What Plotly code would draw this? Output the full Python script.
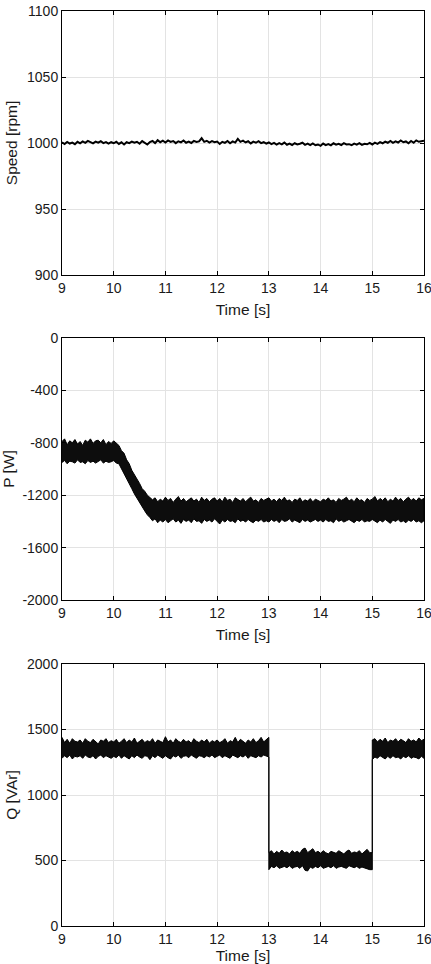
import plotly.graph_objects as go

# ---------------- data ----------------
speed_time = [round(9 + 0.05 * i, 2) for i in range(141)]
speed_rpm = [
    1000.5, 999.2, 1000.8, 999.6, 1000.3, 999.1, 1000.9, 999.8, 1001.2, 1000.1,
    1001.6, 1000.4, 999.7, 1001.0, 1000.2, 1001.3, 999.9, 1000.7, 999.5, 1000.6,
    999.8, 1000.9, 999.3, 1000.5, 998.9, 1000.6, 999.9, 1001.1, 1000.2, 1000.9,
    999.4, 1001.4, 1000.3, 998.8, 1000.7, 1001.5, 999.9, 1002.1, 1000.6, 1001.8,
    1000.4, 1002.0, 1000.8, 1001.5, 999.9, 1001.3, 1000.5, 1001.9, 1000.2, 1001.0,
    1000.0, 1001.6, 1000.8, 1001.2, 1003.6, 1000.9, 1001.7, 1000.3, 1001.4, 1000.6,
    1001.1, 999.3, 1000.9, 1000.1, 1001.5, 999.8, 1001.2, 1000.3, 1003.1, 1000.9,
    1001.8, 1000.4, 1001.3, 999.7, 1001.0, 1000.2, 1001.4, 999.9, 1000.6, 999.5,
    1000.4, 999.2, 1000.1, 998.8, 999.9, 999.0, 1000.3, 998.7, 999.6, 998.5,
    999.8, 998.9, 999.4, 1000.2, 998.6, 999.5, 998.4, 999.7, 998.3, 998.9,
    997.9, 999.6, 998.4, 999.2, 998.2, 999.8, 998.7, 999.4, 998.5, 999.9,
    998.9, 999.1, 998.3, 999.5, 998.8, 999.9, 998.6, 999.4, 999.0, 1000.1,
    998.9, 1000.3, 999.4, 1000.7, 999.8, 1001.1, 1000.2, 1001.6, 1000.1, 1001.3,
    1000.4, 1001.9, 1000.6, 1001.2, 999.8, 1001.5, 1000.2, 1002.0, 1000.9, 1001.6,
    1001.8,
]

# P: upper / lower edge of the noisy band, sampled every 0.05 s
p_time = [round(9 + 0.05 * i, 2) for i in range(141)]
p_upper = [
    -790, -770, -815, -785, -800, -775, -810, -790, -820, -780,
    -795, -770, -805, -785, -780, -800, -775, -815, -790, -805,
    -785, -800, -820, -860, -880, -930, -960, -1010, -1040, -1080,
    -1110, -1150, -1170, -1200, -1215, -1235, -1220, -1250, -1230, -1245,
    -1215, -1240, -1225, -1255, -1230, -1210, -1245, -1225, -1250, -1235,
    -1220, -1245, -1230, -1255, -1215, -1240, -1225, -1250, -1230, -1220,
    -1245, -1225, -1250, -1215, -1240, -1230, -1255, -1220, -1235, -1245,
    -1225, -1250, -1230, -1215, -1245, -1235, -1255, -1225, -1240, -1230,
    -1220, -1245, -1230, -1250, -1225, -1240, -1215, -1245, -1235, -1255,
    -1230, -1240, -1220, -1250, -1235, -1245, -1225, -1250, -1230, -1240,
    -1250, -1230, -1240, -1220, -1245, -1235, -1255, -1225, -1240, -1230,
    -1215, -1245, -1230, -1250, -1220, -1240, -1235, -1255, -1225, -1240,
    -1230, -1210, -1245, -1225, -1240, -1220, -1250, -1230, -1245, -1215,
    -1240, -1225, -1250, -1230, -1215, -1240, -1225, -1245, -1220, -1235,
    -1225,
]
p_lower = [
    -950, -935, -960, -940, -945, -955, -930, -950, -945, -960,
    -935, -950, -940, -955, -945, -930, -955, -940, -950, -945,
    -935, -955, -960, -990, -1030, -1070, -1110, -1150, -1190, -1220,
    -1260, -1290, -1320, -1350, -1370, -1395, -1380, -1410, -1390, -1405,
    -1385, -1410, -1395, -1380, -1405, -1390, -1415, -1385, -1400, -1390,
    -1410, -1380, -1400, -1395, -1415, -1385, -1400, -1390, -1405, -1380,
    -1400, -1420, -1390, -1405, -1385, -1400, -1395, -1410, -1380, -1400,
    -1390, -1405, -1385, -1400, -1410, -1390, -1400, -1385, -1405, -1395,
    -1405, -1385, -1400, -1390, -1410, -1385, -1400, -1395, -1380, -1405,
    -1390, -1400, -1410, -1385, -1400, -1390, -1405, -1395, -1385, -1400,
    -1390, -1405, -1385, -1400, -1395, -1410, -1380, -1400, -1390, -1405,
    -1395, -1385, -1400, -1410, -1390, -1400, -1385, -1405, -1395, -1400,
    -1385, -1400, -1410, -1390, -1405, -1385, -1400, -1415, -1390, -1400,
    -1385, -1405, -1395, -1410, -1390, -1400, -1385, -1405, -1395, -1410,
    -1395,
]

# Q: three segments (step at 13 s and 15 s), sampled every 0.05 s
q_time = (
    [round(9 + 0.05 * i, 2) for i in range(81)]
    + [round(13 + 0.05 * i, 2) for i in range(41)]
    + [round(15 + 0.05 * i, 2) for i in range(21)]
)
q_upper = (
    [1440, 1400, 1425, 1395, 1430, 1410, 1405, 1420, 1395, 1430,
     1410, 1400, 1425, 1405, 1390, 1420, 1410, 1430, 1400, 1415,
     1405, 1425, 1395, 1410, 1430, 1400, 1420, 1405, 1435, 1395,
     1410, 1425, 1400, 1415, 1405, 1430, 1395, 1420, 1410, 1400,
     1445, 1405, 1420, 1395, 1430, 1410, 1400, 1425, 1405, 1415,
     1395, 1430, 1410, 1400, 1420, 1405, 1425, 1395, 1415, 1405,
     1420, 1400, 1410, 1430, 1395, 1415, 1405, 1440, 1400, 1425,
     1410, 1395, 1420, 1405, 1430, 1400, 1415, 1440, 1405, 1425,
     1440]
    + [560, 575, 550, 570, 555, 580, 560, 565, 550, 575,
       560, 570, 555, 585, 595, 560, 575, 590, 560, 570,
       555, 575, 560, 550, 570, 565, 555, 575, 560, 550,
       570, 580, 555, 565, 560, 575, 550, 570, 585, 560,
       560]
    + [1420, 1430, 1405, 1425, 1410, 1435, 1400, 1420, 1410, 1430,
       1405, 1425, 1415, 1400, 1430, 1410, 1420, 1405, 1435, 1415,
       1425]
)
q_lower = (
    [1280, 1300, 1285, 1305, 1275, 1295, 1290, 1300, 1280, 1305,
     1290, 1285, 1300, 1275, 1295, 1305, 1285, 1300, 1290, 1280,
     1295, 1285, 1305, 1280, 1300, 1290, 1275, 1300, 1285, 1305,
     1290, 1280, 1300, 1295, 1270, 1300, 1285, 1305, 1290, 1280,
     1300, 1285, 1275, 1300, 1290, 1305, 1280, 1295, 1300, 1285,
     1305, 1290, 1280, 1300, 1295, 1285, 1300, 1290, 1305, 1285,
     1295, 1305, 1285, 1300, 1290, 1280, 1305, 1295, 1285, 1300,
     1290, 1305, 1280, 1300, 1295, 1285, 1300, 1290, 1305, 1295,
     1290]
    + [430, 455, 445, 460, 440, 450, 455, 445, 460, 440,
       450, 455, 440, 460, 425, 420, 450, 440, 455, 445,
       460, 440, 450, 455, 445, 460, 440, 450, 455, 445,
       440, 460, 450, 445, 455, 440, 450, 445, 435, 430,
       430]
    + [1270, 1290, 1280, 1300, 1285, 1275, 1295, 1280, 1300, 1285,
       1290, 1275, 1295, 1285, 1300, 1280, 1290, 1285, 1275, 1295,
       1280]
)

x_ticks = [9, 10, 11, 12, 13, 14, 15, 16]
speed_ticks = [900, 950, 1000, 1050, 1100]
p_ticks = [-2000, -1600, -1200, -800, -400, 0]
p_tick_text = ["-2000", "-1600", "-1200", "-800", "-400", "0"]
q_ticks = [0, 500, 1000, 1500, 2000]

# ---------------- figure ----------------
fig = go.Figure()

fig.add_trace(go.Scatter(x=speed_time, y=speed_rpm, mode="lines",
                         line=dict(color="black", width=2),
                         xaxis="x", yaxis="y", showlegend=False))

fig.add_trace(go.Scatter(x=p_time + p_time[::-1], y=p_upper + p_lower[::-1],
                         mode="lines", fill="toself", fillcolor="#0d0d0d",
                         line=dict(color="black", width=1),
                         xaxis="x2", yaxis="y2", showlegend=False))

fig.add_trace(go.Scatter(x=q_time + q_time[::-1], y=q_upper + q_lower[::-1],
                         mode="lines", fill="toself", fillcolor="#0d0d0d",
                         line=dict(color="black", width=1),
                         xaxis="x3", yaxis="y3", showlegend=False))

font = "Liberation Sans, Arial, Helvetica, sans-serif"
plot_h = 915.0
domains = [
    ((926 - 275) / plot_h, 1.0),
    ((926 - 600) / plot_h, (926 - 338) / plot_h),
    (0.0, (926 - 664) / plot_h),
]

txt = "#1a1a1a"
common_x = dict(range=[9, 16], tickvals=x_ticks, showgrid=True,
                gridcolor="#e3e3e3", gridwidth=1, showline=True,
                linecolor="black", linewidth=1, mirror="ticks",
                ticks="inside", ticklen=4, tickcolor="black",
                tickfont=dict(size=14, color=txt),
                ticklabeloverflow="allow",
                title=dict(text="Time [s]", font=dict(size=15.5, color=txt), standoff=9),
                zeroline=False, automargin=False)
common_y = dict(showgrid=True, gridcolor="#e3e3e3", gridwidth=1, showline=True,
                linecolor="black", linewidth=1, mirror="ticks",
                ticks="inside", ticklen=4, tickcolor="black",
                tickfont=dict(size=14, color=txt), zeroline=False,
                ticklabeloverflow="allow", automargin=False)

fig.update_layout(
    width=431, height=964,
    margin=dict(l=62, r=7, t=11, b=38),
    paper_bgcolor="white", plot_bgcolor="white",
    font=dict(family=font, color=txt),
    xaxis=dict(common_x, anchor="y"),
    yaxis=dict(common_y, domain=domains[0], range=[900, 1100], tickvals=speed_ticks,
               title=dict(text="Speed [rpm]", font=dict(size=15.5, color=txt), standoff=5),
               anchor="x"),
    xaxis2=dict(common_x, anchor="y2"),
    yaxis2=dict(common_y, domain=domains[1], range=[-2000, 0], tickvals=p_ticks,
                ticktext=p_tick_text,
                title=dict(text="P [W]", font=dict(size=15.5, color=txt), standoff=5),
                anchor="x2"),
    xaxis3=dict(common_x, anchor="y3"),
    yaxis3=dict(common_y, domain=domains[2], range=[0, 2000], tickvals=q_ticks,
                title=dict(text="Q [VAr]", font=dict(size=15.5, color=txt), standoff=5),
                anchor="x3"),
)

fig.write_html("out.html")
